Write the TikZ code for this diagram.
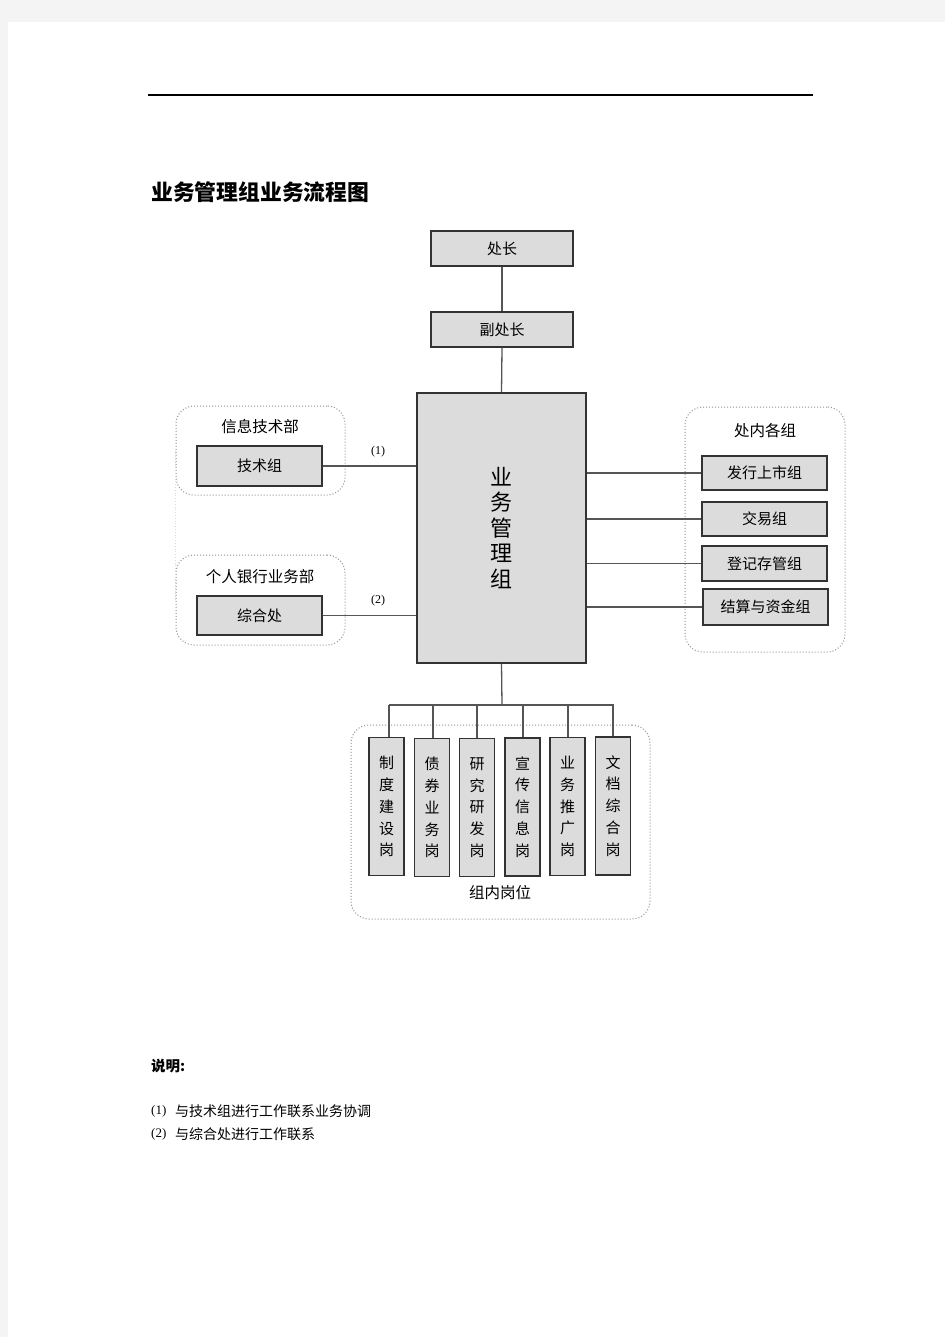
\documentclass[tikz,border=0pt]{standalone}
\usepackage{fontspec}
\setmainfont{Liberation Serif}
\newfontfamily\cjk{Noto Sans CJK SC}
\definecolor{pagegray}{HTML}{F4F4F4}
\definecolor{boxgray}{HTML}{DCDCDC}
\definecolor{edge}{HTML}{333333}
\definecolor{conncol}{HTML}{555555}
\tikzset{
  box/.style={draw=edge, fill=boxgray, line width=1.2pt, inner sep=0pt, align=center,
    font=\cjk\fontsize{15}{15}\selectfont},
  vbox/.style={box, minimum width=35pt, minimum height=138pt,
    font=\cjk\fontsize{15}{21.8}\selectfont},
  grp/.style={draw=gray!85, dotted, line width=1pt, rounded corners=18pt, inner sep=0pt},
  grptitle/.style={inner sep=0pt, font=\cjk\fontsize{15.5}{15.5}\selectfont},
  conn/.style={draw=conncol, line width=1.3pt},
  lab/.style={inner sep=0pt, font=\fontsize{12}{12}\selectfont},
  note/.style={inner sep=0pt, anchor=west, font=\cjk\fontsize{14}{14}\selectfont}
}
\begin{document}
\begin{tikzpicture}[x=1pt,y=-1pt]
\useasboundingbox (0,0) rectangle (945,1337);
\fill[white] (0,0) rectangle (945,1337);
\fill[pagegray] (0,0) rectangle (8,1337);
\fill[pagegray] (0,0) rectangle (945,22);

% header rule
\coordinate (hl1) at (148,95);
\coordinate (hl2) at (813,95);
\draw[line width=1.2pt] (hl1) -- (hl2);

% title
\node[anchor=west, inner sep=0pt, font=\cjk\bfseries\fontsize{21.8}{21.8}\selectfont] (title) at (151,192) {业务管理组业务流程图};

% top chain
\node[box, minimum width=142pt, minimum height=35pt] (zc) at (502,248.5) {处长};
\node[box, minimum width=142pt, minimum height=35pt] (fcz) at (502,329.5) {副处长};
\node[box, minimum width=169pt, minimum height=270pt,
      font=\cjk\fontsize{22}{25.5}\selectfont] (main) at (501.5,528) {业\\务\\管\\理\\组};
\draw[conn] (zc.south) -- (fcz.north);
\draw[conn] (fcz.south) -- (main.north);

% left groups
\node[grp, minimum width=169pt, minimum height=89pt] (g1) at (260.5,450.5) {};
\node[grp, minimum width=169pt, minimum height=90pt] (g2) at (260.5,600) {};
\draw[draw=gray!30, dotted, line width=0.8pt] (g1.west) -- (g2.west);
\node[grptitle] (g1t) at (260,427) {信息技术部};
\node[grptitle] (g2t) at (260,577) {个人银行业务部};
\node[box, minimum width=125pt, minimum height=40pt] (jsz) at (259.5,466) {技术组};
\node[box, minimum width=125pt, minimum height=39pt] (zhc) at (259.5,615.5) {综合处};
\draw[conn] (jsz.east) -- (main.west |- jsz.east);
\draw[conn] (zhc.east) -- (main.west |- zhc.east);
\node[lab] (lab1) at (378,452) {(1)};
\node[lab] (lab2) at (378,601) {(2)};

% right group
\node[grp, minimum width=160pt, minimum height=245pt] (g3) at (765,529.5) {};
\node[grptitle] (g3t) at (765,431) {处内各组};
\node[box, minimum width=125pt, minimum height=34pt] (r1) at (764.5,473) {发行上市组};
\node[box, minimum width=125pt, minimum height=34pt] (r2) at (764.5,519) {交易组};
\node[box, minimum width=125pt, minimum height=35pt] (r3) at (764.5,563.5) {登记存管组};
\node[box, minimum width=125pt, minimum height=36pt] (r4) at (765.5,607) {结算与资金组};
\foreach \r in {r1,r2,r3,r4}{
  \draw[conn] (main.east |- \r.west) -- (\r.west);
}

% bottom group
\node[grp, minimum width=299pt, minimum height=194pt] (g4) at (500.5,822) {};
\node[grptitle] (g4t) at (500,893) {组内岗位};
\node[vbox] (p1) at (386.5,806.5) {制\\度\\建\\设\\岗};
\node[vbox] (p2) at (432,807.5) {债\\券\\业\\务\\岗};
\node[vbox] (p3) at (477,807.5) {研\\究\\研\\发\\岗};
\node[vbox] (p4) at (522.5,807) {宣\\传\\信\\息\\岗};
\node[vbox] (p5) at (567.5,806.5) {业\\务\\推\\广\\岗};
\node[vbox] (p6) at (613,806) {文\\档\\综\\合\\岗};
\coordinate (bus) at (502,705);
\draw[conn] (main.south) -- (bus);
\coordinate (b1) at (389,705);
\coordinate (b6) at (614,705);
\draw[conn] (b1) -- (b6);
\draw[conn] (b1) -- (b1 |- p1.north);
\foreach \p/\x in {p2/433,p3/477,p4/523,p5/568}{
  \draw[conn] (\x,705) -- (\x,0 |- \p.north);
}
\draw[conn] (p6.north |- b6) -- (p6.north);

% notes
\node[anchor=west, inner sep=0pt, font=\cjk\bfseries\fontsize{14.5}{14.5}\selectfont] (n0) at (151,1066) {说明:};
\node[anchor=west, inner sep=0pt, font=\fontsize{13}{13}\selectfont] (n1) at (151,1111) {(1)};
\node[note] (n1t) at (175,1111) {与技术组进行工作联系业务协调};
\node[anchor=west, inner sep=0pt, font=\fontsize{13}{13}\selectfont] (n2) at (151,1134) {(2)};
\node[note] (n2t) at (175,1134) {与综合处进行工作联系};
\end{tikzpicture}
\end{document}
